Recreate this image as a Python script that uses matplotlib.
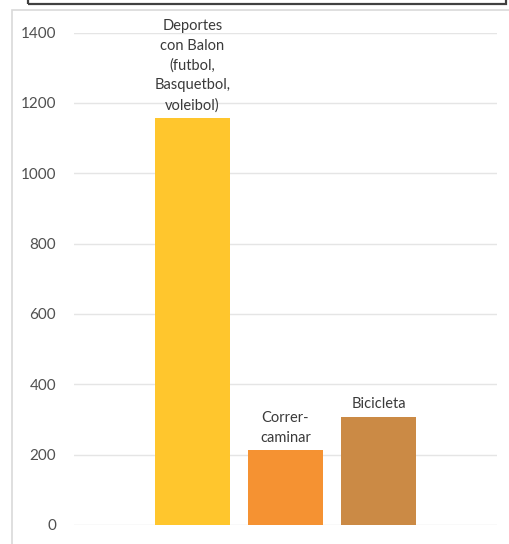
import matplotlib
matplotlib.use("Agg")
import matplotlib.pyplot as plt
from matplotlib.patches import Rectangle

categories = ["Deportes\ncon Balon\n(futbol,\nBasquetbol,\nvoleibol)", "Correr-\ncaminar", "Bicicleta"]
values = [1157, 213, 307]
colors = ["#FFC62D", "#F59232", "#CB8A45"]
yticks = [0, 200, 400, 600, 800, 1000, 1200, 1400]

W, H = 509, 544
plt.rcParams["font.family"] = ["Lato", "DejaVu Sans"]

fig = plt.figure(figsize=(W / 100, H / 100), dpi=100)

# outer chart frame (light gray) and the dark box cut off at the top
fig.patches.append(Rectangle((12 / W, -0.1), 1.1, (H - 10) / H + 0.1, transform=fig.transFigure,
                             fill=False, edgecolor="#D9D9D9", linewidth=1.2))
fig.patches.append(Rectangle((28 / W, (H - 4) / H), (506 - 28) / W, 0.1, transform=fig.transFigure,
                             fill=False, edgecolor="#404040", linewidth=1.6))

ax = fig.add_axes([74 / W, (H - 525) / H, (497 - 74) / W, (525 - 32.5) / H])
x = list(range(len(categories)))
bars = ax.bar(x, values, width=0.8, color=colors, zorder=2)

for xi, v, lab in zip(x, values, categories):
    ax.annotate(lab, (xi, v), xytext=(0, 4), textcoords="offset points",
                ha="center", va="bottom", fontsize=10.5, color="#3A3A3A",
                linespacing=1.5, annotation_clip=False)

ax.set_xlim(-1.27, 3.27)
ax.set_ylim(0, 1400)
ax.set_yticks(yticks)
ax.set_xticks([])
ax.tick_params(axis="y", length=0, pad=13, labelsize=11, labelcolor="#505050")
ax.grid(axis="y", color="#E5E5E5", linewidth=1, zorder=0)
for s in ax.spines.values():
    s.set_visible(False)

fig.savefig("out.png", dpi=100)
